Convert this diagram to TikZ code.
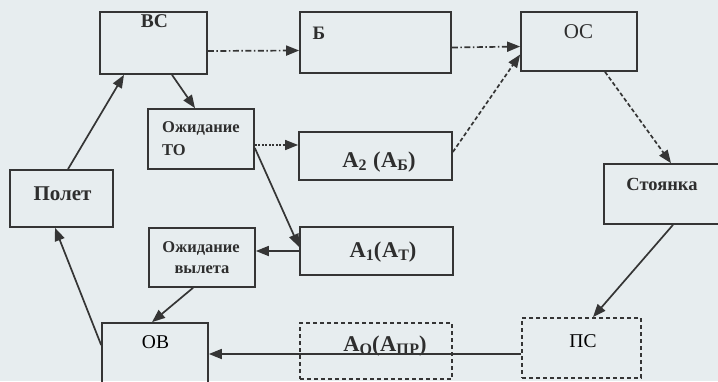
\documentclass[tikz,border=0pt]{standalone}
\usepackage{fontspec}
\setmainfont{Liberation Serif}
\usetikzlibrary{arrows.meta}
\definecolor{paper}{HTML}{E7EDEF}
\definecolor{ink}{HTML}{353535}
\definecolor{textink}{HTML}{2E2E2E}
% lowered index in the activity labels
\newcommand\lowidx[1]{\raisebox{-3.5pt}{\fontsize{16}{16}\selectfont #1}}
\begin{document}
\begin{tikzpicture}[x=1pt,y=-1pt,
  box/.style={draw=ink, line width=1.7pt, inner sep=0pt},
  dbox/.style={box, dash pattern=on 4pt off 3pt},
  lbl/.style={inner sep=0pt, text=textink, font=\bfseries\fontsize{19}{21}\selectfont},
  small/.style={lbl, font=\bfseries\fontsize{16.5}{18}\selectfont},
  actlbl/.style={lbl, font=\bfseries\fontsize{22.5}{25}\selectfont\addfontfeature{LetterSpace=3}},
  plain/.style={inner sep=0pt, text=black, font=\fontsize{19.5}{21}\selectfont},
  link/.style={draw=ink, line width=1.7pt, -{Triangle[length=13pt,width=10pt]}},
  dashdot/.style={link, dash pattern=on 6pt off 2.5pt on 1.5pt off 2.5pt},
  dashline/.style={link, dash pattern=on 4pt off 2.5pt},
  dotline/.style={link, line width=1.4pt, dash pattern=on 2pt off 1.5pt}]
\fill[paper] (0,0) rectangle (718,381);
\useasboundingbox (0,0) rectangle (718,381);

% boxes
\node[box, minimum width=107pt, minimum height=62pt] (vs)  at (153.5,43)   {};
\node[box, minimum width=151pt, minimum height=61pt] (b)   at (375.5,42.5) {};
\node[box, minimum width=116pt, minimum height=59pt] (os)  at (579,41.5)   {};
\node[box, minimum width=106pt, minimum height=60pt] (to)  at (201,139)    {};
\node[box, minimum width=153pt, minimum height=48pt] (a2)  at (375.5,156)  {};
\node[box, minimum width=122pt, minimum height=60pt] (st)  at (665,194)    {};
\node[box, minimum width=103pt, minimum height=57pt] (pol) at (61.5,198.5) {};
\node[box, minimum width=106pt, minimum height=59pt] (vyl) at (202,257.5)  {};
\node[box, minimum width=153pt, minimum height=48pt] (a1)  at (376.5,251)  {};
\node[box, minimum width=106pt, minimum height=72pt] (ov)  at (155,359)    {};
\node[dbox, minimum width=152pt, minimum height=56pt] (ao) at (376,351)    {};
\node[dbox, minimum width=119pt, minimum height=60pt] (ps) at (581.5,348)  {};

% labels
\node[lbl, font=\bfseries\fontsize{19.5}{21}\selectfont, anchor=base] (vs-t) at (154.5,27) {ВС};
\node[lbl, font=\bfseries\fontsize{19}{20}\selectfont, anchor=base] (b-t) at (319,39) {Б};
\node[lbl, font=\fontsize{21}{23}\selectfont, anchor=base] (os-t) at (578.5,38) {ОС};
\node[small, anchor=base west] (to-t1) at (162,132) {Ожидание};
\node[small, anchor=base west] (to-t2) at (162,155) {ТО};
\node[actlbl, anchor=base] (a2-t) at (379,167) {А\lowidx{2} (А\lowidx{Б})};
\node[lbl, font=\bfseries\fontsize{18.5}{20}\selectfont, anchor=base] (st-t) at (662,190) {Стоянка};
\node[lbl, font=\bfseries\fontsize{21}{23}\selectfont, anchor=base] (pol-t) at (62.5,200) {Полет};
\node[small, anchor=base] (vyl-t1) at (201,252) {Ожидание};
\node[small, anchor=base] (vyl-t2) at (202,273) {вылета};
\node[actlbl, anchor=base] (a1-t) at (383,257) {А\lowidx{1}(А\lowidx{Т})};
\node[plain, anchor=base] (ov-t) at (155.5,348) {ОВ};
\node[actlbl, anchor=base] (ao-t) at (385,351) {А\lowidx{О}(А\lowidx{ПР})};
\node[plain, anchor=base] (ps-t) at (583,347) {ПС};

% connectors
\draw[dashdot] ([yshift=-8pt]vs.east) -- ([yshift=-8pt]b.west);
\draw[dashdot] ([yshift=-5pt]b.east) -- ([yshift=-5pt]os.west);
\draw[dashline] ([yshift=4pt]a2.east) -- ([yshift=-13pt]os.west);
\draw[dashline] ([xshift=26pt]os.south) -- ([xshift=6pt]st.north);
\draw[link] ([xshift=18.5pt]vs.south) -- ([xshift=-6pt]to.north);
\draw[link] ([xshift=6.5pt]pol.north) -- ([xshift=-29.5pt]vs.south);
\draw[dotline] ([yshift=-6pt]to.east) -- ([yshift=11pt]a2.west);
\draw[link] ([yshift=-9pt]to.east) -- ([yshift=4pt]a1.west);
\draw[link] (a1.west) -- ([yshift=6.5pt]vyl.east);
\draw[link] ([xshift=-9pt]vyl.south) -- ([xshift=-3pt]ov.north);
\draw[link] ([yshift=14pt]ov.west) -- ([xshift=-6.5pt]pol.south);
\draw[link] ([yshift=-6pt]ps.west) -- ([yshift=5pt]ov.east);
\draw[link] ([xshift=8pt]st.south) -- ([xshift=11.5pt]ps.north);
\end{tikzpicture}
\end{document}
